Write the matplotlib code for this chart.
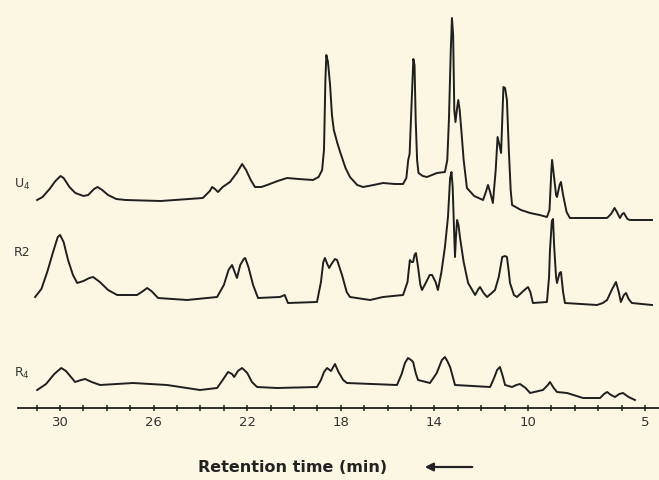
import matplotlib
matplotlib.use("Agg")
import matplotlib.pyplot as plt
from matplotlib.patches import FancyArrowPatch
import numpy as np

# retention time (min) and detector signal (arbitrary units, above each trace's own baseline)
u4_time = [30.98, 30.75, 30.45, 30.2, 29.98, 29.85, 29.6, 29.35, 29.0, 28.8, 28.55, 28.4,
           28.2, 27.95, 27.6, 27.2, 25.7, 23.9, 23.6, 23.5, 23.38, 23.25, 23.05, 22.74,
           22.45, 22.22, 22.05, 21.85, 21.67, 21.4, 21.15, 20.7, 20.3, 19.8, 19.19, 18.95,
           18.8, 18.72, 18.66, 18.62, 18.55, 18.46, 18.38, 18.3, 18.15, 18.03, 17.8, 17.61,
           17.3, 17.05, 16.6, 16.2, 15.7, 15.34, 15.2, 15.12, 15.06, 14.97, 14.9, 14.85,
           14.8, 14.74, 14.68, 14.5, 14.32, 13.89, 13.55, 13.45, 13.38, 13.3, 13.25, 13.2,
           13.15, 13.1, 13.03, 12.98, 12.92, 12.85, 12.75, 12.61, 12.3, 11.92, 11.8, 11.71,
           11.62, 11.5, 11.38, 11.3, 11.22, 11.15, 11.1, 11.05, 10.98, 10.9, 10.82, 10.74,
           10.68, 10.3, 9.91, 9.5, 9.19, 9.08, 9.0, 8.97, 8.92, 8.8, 8.76, 8.65, 8.59, 8.5,
           8.35, 8.21, 7.5, 6.62, 6.45, 6.3, 6.2, 6.07, 5.97, 5.9, 5.75, 5.64, 4.7]
u4_signal = [0, 3, 11, 19, 24, 22, 13, 7, 4, 5, 11, 13,
             10, 5, 1, 0, -1, 2, 9, 13, 11, 8, 13, 18,
             27, 36, 30, 20, 13, 13, 15, 19, 22, 21, 20, 23,
             30, 50, 120, 145, 138, 115, 85, 70, 57, 48, 32, 23,
             15, 13, 15, 17, 16, 16, 22, 40, 46, 100, 141, 135,
             80, 40, 27, 24, 23, 27, 28, 40, 80, 150, 182, 165,
             90, 78, 92, 100, 90, 70, 40, 12, 4, 0, 8, 15,
             8, -3, 30, 63, 55, 47, 80, 113, 112, 100, 50, 10,
             -5, -10, -13, -15, -17, -10, 30, 40, 30, 5, 3, 15, 18, 5,
             -12, -18, -18, -18, -14, -8, -12, -18, -14, -13, -19, -20, -20]

r2_time = [31.07, 30.8, 30.55, 30.3, 30.1, 30.0, 29.85, 29.66, 29.45, 29.27, 29.0, 28.75,
           28.59, 28.3, 27.95, 27.56, 26.71, 26.45, 26.28, 26.1, 25.81, 24.57, 23.29, 23.0,
           22.8, 22.65, 22.52, 22.44, 22.3, 22.15, 22.09, 21.95, 21.75, 21.54, 20.6, 20.4,
           20.26, 19.02, 18.85, 18.75, 18.68, 18.58, 18.5, 18.4, 18.25, 18.16, 17.95, 17.75,
           17.61, 16.75, 16.2, 15.34, 15.15, 15.05, 14.98, 14.91, 14.85, 14.79, 14.7, 14.6,
           14.53, 14.35, 14.2, 14.1, 13.95, 13.85, 13.7, 13.55, 13.42, 13.33, 13.27, 13.22,
           13.15, 13.12, 13.08, 13.03, 12.97, 12.91, 12.75, 12.56, 12.26, 12.12, 12.05, 11.9,
           11.75, 11.55, 11.41, 11.25, 11.1, 10.98, 10.9, 10.82, 10.77, 10.6, 10.47, 10.2,
           10.0, 9.9, 9.79, 9.19, 9.1, 9.06, 8.98, 8.93, 8.88, 8.8, 8.76, 8.65, 8.59, 8.5,
           8.42, 7.05, 6.8, 6.62, 6.4, 6.24, 6.12, 6.03, 5.9, 5.81, 5.7, 5.56, 4.7]
r2_signal = [0, 8, 25, 45, 60, 62, 55, 37, 22, 14, 16, 19,
             20, 15, 7, 2, 2, 6, 9, 6, -1, -3, 0, 12,
             27, 32, 24, 19, 32, 38, 39, 30, 12, -1, 0, 2,
             -6, -5, 15, 35, 39, 33, 29, 33, 38, 37, 22, 5,
             0, -3, 0, 2, 15, 37, 35, 35, 42, 44, 30, 12,
             7, 15, 22, 22, 15, 7, 25, 50, 80, 119, 125, 110,
             60, 40, 60, 77, 72, 60, 35, 14, 2, 8, 10, 4,
             0, 4, 7, 20, 40, 41, 40, 25, 14, 2, 0, 6,
             10, 5, -6, -5, 20, 47, 76, 78, 50, 20, 14, 24, 25, 5,
             -6, -8, -6, -3, 8, 15, 5, -5, 2, 4, -2, -6, -8]

r4_time = [30.98, 30.6, 30.25, 29.95, 29.75, 29.5, 29.36, 29.1, 28.93, 28.65, 28.29, 26.88,
           25.43, 24.02, 23.29, 23.05, 22.82, 22.65, 22.56, 22.4, 22.22, 22.0, 21.8, 21.58,
           20.73, 19.02, 18.85, 18.72, 18.59, 18.42, 18.3, 18.25, 18.1, 17.9, 17.74, 15.6,
           15.4, 15.26, 15.13, 15.0, 14.91, 14.8, 14.7, 14.19, 13.9, 13.68, 13.55, 13.45,
           13.33, 13.2, 13.12, 11.62, 11.45, 11.32, 11.2, 11.08, 10.98, 10.68, 10.5, 10.34,
           10.1, 9.91, 9.36, 9.15, 9.06, 8.9, 8.76, 8.33, 7.65, 6.92, 6.75, 6.62, 6.45,
           6.28, 6.1, 5.94, 5.7, 5.43]
r4_signal = [-2, 4, 14, 20, 17, 10, 6, 8, 9, 6, 3, 5,
             3, -2, 0, 8, 16, 14, 11, 17, 20, 15, 6, 1,
             0, 1, 8, 16, 20, 17, 22, 24, 16, 8, 5, 3,
             14, 25, 30, 28, 26, 15, 8, 5, 15, 28, 31, 27,
             21, 10, 3, 1, 10, 18, 21, 12, 3, 1, 3, 4,
             0, -5, -2, 3, 6, 0, -4, -5, -10, -10, -6, -4, -7,
             -9, -6, -5, -9, -12]

trace_names = ["U$_4$", "R2", "R$_4$"]
major_ticks = [30, 26, 22, 18, 14, 10, 5]
minor_ticks = list(range(5, 32))

paper = "#fbf7e3"
ink = "#1f1f1f"

fig = plt.figure(figsize=(6.59, 4.8), dpi=100, facecolor=paper)
ax = fig.add_axes([0.0273, 0.15, 0.9727, 0.85])
ax.set_facecolor(paper)

offsets = [208, 111, 20]
for t, s, off in zip([u4_time, r2_time, r4_time], [u4_signal, r2_signal, r4_signal], offsets):
    ax.plot(t, np.array(s) + off, color=ink, lw=1.4, solid_joinstyle="round")

ax.set_xlim(31.8, 4.4)
ax.set_ylim(0, 408)
for side in ["left", "top", "right"]:
    ax.spines[side].set_visible(False)
ax.spines["bottom"].set_color(ink)
ax.spines["bottom"].set_linewidth(1.3)
ax.set_yticks([])
ax.set_xticks(major_ticks)
ax.set_xticklabels([str(v) for v in major_ticks])
ax.set_xticks(minor_ticks, minor=True)
ax.tick_params(axis="x", which="both", direction="inout", length=5, width=1.1,
               colors=ink, labelsize=9.5, pad=3)
for lab in ax.get_xticklabels():
    lab.set_color("#333333")

# trace labels
label_y = [184, 253, 373]
for name, y in zip(trace_names, label_y):
    fig.text(14 / 659, 1 - y / 480, name, fontsize=9, color="#333333", va="center", ha="left")

fig.text(293 / 659, 1 - 468 / 480, "Retention time (min)", fontsize=11.5,
         fontweight="bold", color="#222222", ha="center", va="center")
fig.patches.append(FancyArrowPatch(
    (475 / 659, 1 - 467 / 480), (422 / 659, 1 - 467 / 480), transform=fig.transFigure,
    arrowstyle="-|>", mutation_scale=12, color="#222222", lw=1.6))

fig.savefig("out.png", dpi=100, facecolor=paper)
